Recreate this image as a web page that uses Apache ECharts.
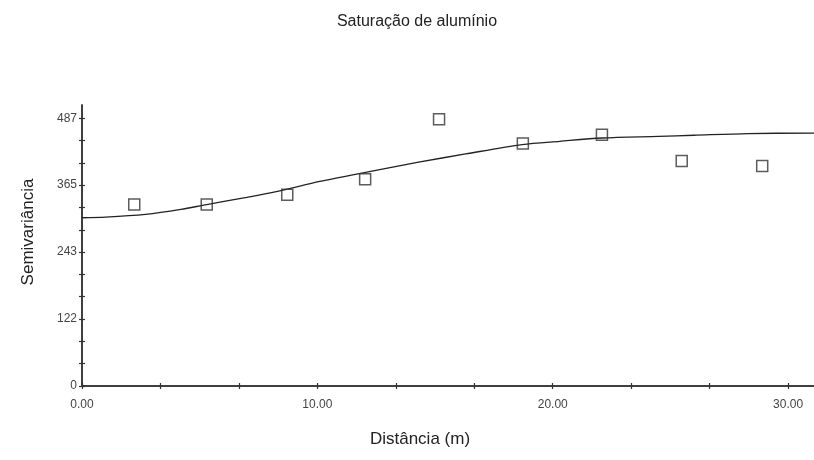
<!DOCTYPE html>
<html>
<head>
<meta charset="utf-8">
<script src="https://cdn.jsdelivr.net/npm/echarts@6/dist/echarts.min.js"></script>
<style>html,body{margin:0;padding:0;background:#fff;}#c{width:814px;height:460px;}</style>
</head>
<body>
<div id="c"></div>
<script>
// Experimental semivariance points (distance, semivariance)
var pointX = [2.22, 5.30, 8.72, 12.03, 15.17, 18.73, 22.09, 25.48, 28.90];
var pointY = [330, 330, 348, 376, 485, 441, 457, 409, 400];
// Fitted model curve
var curveX = [0, 1, 2.7, 4.2, 5.3, 7.0, 8.4, 10.1, 12.1, 14.3, 16.3, 18.7, 20.3, 22.1, 24.5, 26, 28.3, 31.1];
var curveY = [306, 307, 312, 321, 330, 343, 355, 372, 389, 407, 422, 439, 445, 451, 454, 456, 459, 460];
// Axis ticks and labels
var xTickValues = [0, 10/3, 20/3, 10, 40/3, 50/3, 20, 70/3, 80/3, 30];
var xLabelValues = [0, 10, 20, 30];
var yTickStep = 487 / 12;
var yTickValues = [0,1,2,3,4,5,6,7,8,9,10,11,12].map(function(k){return k*yTickStep;});
var yLabelValues = [0, 121.75, 243.5, 365.25, 487];
var yTickLabels = ['0', '122', '243', '365', '487'];

var font = 'Liberation Sans, Arial, sans-serif';
var axisCol = '#333';

function xAxisBase(inside) {
  return {
    type: 'value', min: 0, max: 31.1, position: 'bottom',
    axisLine: {show: true, onZero: false, lineStyle: {color: axisCol, width: 1.5}},
    axisTick: {show: true, inside: inside, length: 3, customValues: xTickValues, lineStyle: {color: axisCol, width: 1.2}},
    splitLine: {show: false}
  };
}
function yAxisBase(inside) {
  return {
    type: 'value', min: 0, max: 511, position: 'left',
    axisLine: {show: true, onZero: false, lineStyle: {color: axisCol, width: 1.5}},
    axisTick: {show: true, inside: inside, length: 3, customValues: yTickValues, lineStyle: {color: axisCol, width: 1.2}},
    splitLine: {show: false}
  };
}

var xa = xAxisBase(false);
xa.name = 'Distância (m)';
xa.nameLocation = 'middle';
xa.nameGap = 45;
xa.nameTextStyle = {fontFamily: font, fontSize: 17, color: '#222', padding: [0, 56, 0, 0]};
xa.axisLabel = {show: true, customValues: xLabelValues, fontFamily: font, fontSize: 12, color: '#444', margin: 13,
  formatter: function(v){ return v.toFixed(2); }};
var xb = xAxisBase(true);
xb.axisLabel = {show: false};

var ya = yAxisBase(false);
ya.name = 'Semivariância';
ya.nameLocation = 'middle';
ya.nameGap = 45;
ya.nameTextStyle = {fontFamily: font, fontSize: 17, color: '#222', padding: [0, 0, 0, 27]};
ya.axisLabel = {show: true, customValues: yLabelValues, fontFamily: font, fontSize: 12, color: '#444', margin: 5,
  formatter: function(v){
    for (var i = 0; i < yLabelValues.length; i++) { if (Math.abs(v - yLabelValues[i]) < 0.01) return yTickLabels[i]; }
    return '';
  }};
var yb = yAxisBase(true);
yb.axisLabel = {show: false};

var chart = echarts.init(document.getElementById('c'), null, {renderer: 'canvas'});
chart.setOption({
  animation: false,
  backgroundColor: '#fff',
  title: {text: 'Saturação de alumínio', left: 412, top: 9, textAlign: 'center',
    textStyle: {fontFamily: font, fontSize: 16, fontWeight: 'normal', color: '#222'}},
  grid: {left: 82, right: 0, top: 105, bottom: 74, containLabel: false},
  xAxis: [xa, xb],
  yAxis: [ya, yb],
  series: [
    {type: 'line', xAxisIndex: 0, yAxisIndex: 0, data: curveX.map(function(x,i){return [x, curveY[i]];}),
     showSymbol: false, smooth: 0.3, lineStyle: {color: '#222', width: 1.3}, z: 2},
    {type: 'scatter', xAxisIndex: 0, yAxisIndex: 0, data: pointX.map(function(x,i){return [x, pointY[i]];}),
     symbol: 'rect', symbolSize: 11,
     itemStyle: {color: 'rgba(255,255,255,0)', borderColor: '#333', borderWidth: 1.5}, z: 3}
  ]
});
</script>
</body>
</html>
